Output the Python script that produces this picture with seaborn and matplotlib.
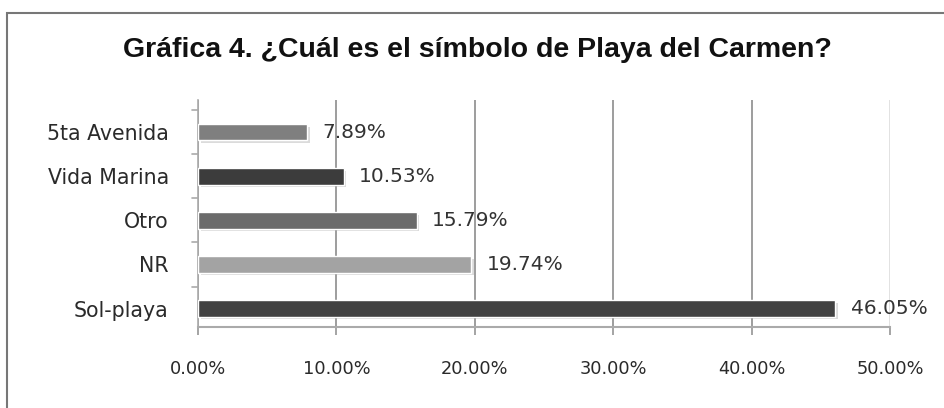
import matplotlib
matplotlib.use("Agg")
import matplotlib.pyplot as plt
import matplotlib.patches as mpatches
import matplotlib.patheffects as pe
import pandas as pd
import seaborn as sns

categorias = ["5ta Avenida", "Vida Marina", "Otro", "NR", "Sol-playa"]
porcentajes = [7.89, 10.53, 15.79, 19.74, 46.05]
colores = ["#7f7f7f", "#3c3c3c", "#6b6b6b", "#a3a3a3", "#424242"]
ticks_x = [0, 10, 20, 30, 40, 50]

df = pd.DataFrame({"categoria": categorias, "valor": porcentajes})

sns.set_theme(style="white")
plt.rcParams["font.family"] = ["DejaVu Sans"]

fig = plt.figure(figsize=(9.45, 4.08), dpi=100)
ax = fig.add_axes([0.2095, 0.1985, 0.7323, 0.5565])

sns.barplot(data=df, x="valor", y="categoria", hue="categoria", palette=colores,
            legend=False, width=0.37, ax=ax, orient="h", zorder=3)

sombra = [pe.SimplePatchShadow(offset=(2, -2), shadow_rgbFace="#999999", alpha=0.35), pe.Normal()]
for p in ax.patches:
    p.set_path_effects(sombra)

for cont in ax.containers:
    ax.bar_label(cont, labels=[f"{v.get_width():.2f}%" for v in cont],
                 padding=11, fontsize=14.5, color="#333333")

ax.set_xlim(0, 50)
ax.set_xticks(ticks_x)
ax.set_xticklabels([f"{t:.2f}%" for t in ticks_x], fontsize=12.8, color="#2a2a2a")
ax.tick_params(axis="x", pad=18, length=6, color="#999999", direction="out", bottom=True)
ax.tick_params(axis="y", labelsize=14.8, length=0, pad=21, colors="#2a2a2a")
ax.set_xlabel("")
ax.set_ylabel("")
ax.xaxis.grid(True, color="#8c8c8c", linewidth=1.2, zorder=0)
ax.get_xgridlines()[-1].set_color("#dddddd")

# marcas del eje vertical entre categorias
for yy in [-0.5, 0.5, 1.5, 2.5, 3.5]:
    ax.plot([-0.45, 0], [yy, yy], color="#aaaaaa", lw=1.2, clip_on=False)

for s in ["top", "right"]:
    ax.spines[s].set_visible(False)
ax.spines["left"].set_color("#aaaaaa")
ax.spines["bottom"].set_color("#aaaaaa")
ax.spines["left"].set_linewidth(1.2)
ax.spines["bottom"].set_linewidth(1.5)

fig.text(0.505, 0.877, "Gráfica 4. ¿Cuál es el símbolo de Playa del Carmen?",
         ha="center", va="center", fontsize=20.5, fontweight="bold",
         family=["Liberation Sans", "DejaVu Sans"], color="#111111")

fig.patches.append(mpatches.Rectangle((0.007, -0.05), 1.05, 1.018,
                                      transform=fig.transFigure, fill=False,
                                      edgecolor="#777777", linewidth=1.5))

fig.savefig("out.png", dpi=100)
